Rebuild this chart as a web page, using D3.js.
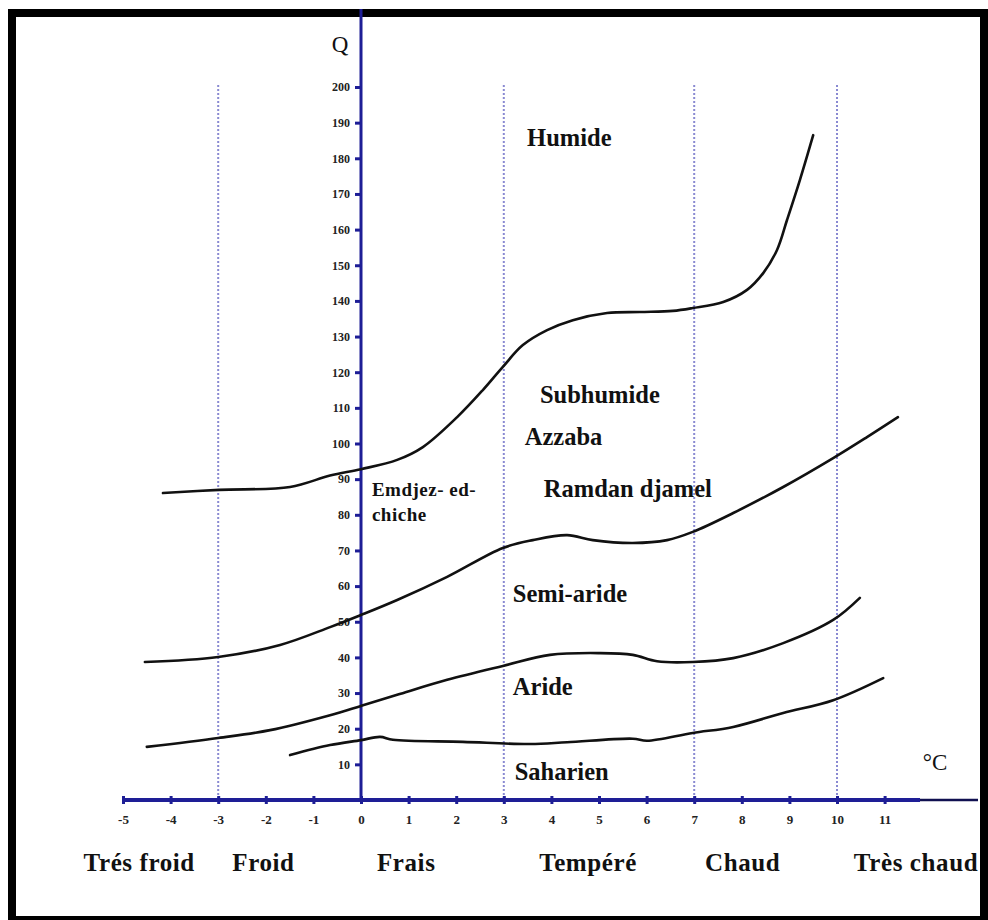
<!DOCTYPE html>
<html>
<head>
<meta charset="utf-8">
<script src="https://cdn.jsdelivr.net/npm/d3@7"></script>
<style>
  html, body { margin: 0; padding: 0; background: #fff; }
  svg { display: block; }
</style>
</head>
<body>
<svg id="chart" width="988" height="920"></svg>
<script>
// ---- Data ----
const xTicks = [-5,-4,-3,-2,-1,0,1,2,3,4,5,6,7,8,9,10,11];
const yTicks = [10,20,30,40,50,60,70,80,90,100,110,120,130,140,150,160,170,180,190,200];
const dividers = [-3, 3, 7, 10];

// Humide / Subhumide boundary
const curveHumide = [
  [-4.16,86.1],[-2.98,87.0],[-1.49,87.8],[-0.65,91.0],[0,92.8],[0.76,95.4],[1.30,99.0],
  [2.02,107.4],[2.56,115.0],[2.98,121.5],[3.40,127.6],[3.91,131.8],[4.45,134.6],[5.17,136.6],
  [5.86,136.9],[6.55,137.2],[6.97,138.0],[7.61,139.7],[8.11,143.1],[8.45,147.8],[8.74,154.3],
  [8.95,162.7],[9.22,173.9],[9.50,186.5]
];
// Subhumide / Semi-aride boundary
const curveSubhumide = [
  [-4.54,38.7],[-3.0,40.1],[-1.70,43.5],[-0.65,48.5],[0,51.9],[0.76,56.1],[1.81,62.6],
  [2.98,70.7],[3.61,72.9],[4.33,74.3],[4.87,72.9],[5.71,72.1],[6.43,72.9],[6.97,75.2],
  [7.82,80.5],[8.87,87.8],[9.92,95.9],[10.63,101.8],[11.28,107.4]
];
// Semi-aride / Aride boundary
const curveSemiAride = [
  [-4.50,14.9],[-3.0,17.4],[-1.91,19.6],[-0.65,23.8],[0,26.4],[0.76,29.5],[1.81,33.7],
  [2.98,37.6],[3.97,40.7],[5.02,41.2],[5.71,40.7],[6.22,38.9],[6.97,38.7],[7.82,39.8],
  [8.87,44.0],[9.92,50.5],[10.48,56.7]
];
// Aride / Saharien boundary
const curveAride = [
  [-1.49,12.6],[-0.65,15.4],[0,16.8],[0.40,17.7],[0.67,16.9],[2.14,16.3],[3.55,15.7],
  [4.33,16.2],[5.71,17.2],[6.01,16.6],[6.97,18.8],[7.82,20.5],[8.87,24.4],[9.92,28.0],[10.97,34.2]
];
const curves = [curveHumide, curveSubhumide, curveSemiAride, curveAride];

// Zone labels: [text, x, Q]
const zoneLabels = [
  ["Humide", 3.49, 183.5],
  ["Subhumide", 3.76, 111.3],
  ["Azzaba", 3.44, 99.6],
  ["Ramdan djamel", 3.84, 85.0],
  ["Semi-aride", 3.19, 55.5],
  ["Aride", 3.19, 29.5],
  ["Saharien", 3.23, 5.6]
];
const siteLabel = ["Emdjez- ed-", "chiche"];
const bottomLabels = [
  ["Trés froid", -4.66],
  ["Froid", -2.05],
  ["Frais", 0.95],
  ["Tempéré", 4.77],
  ["Chaud", 8.02],
  ["Très chaud", 11.66]
];

// ---- Drawing ----
const svg = d3.select("#chart");
const x = d3.scaleLinear().domain([-5, 11]).range([123, 884.6]);
const y = d3.scaleLinear().domain([0, 200]).range([800, 87]);
const serif = "'Liberation Serif', 'DejaVu Serif', serif";
const axisColor = "#1e1e96";

// frame
svg.append("rect").attr("x", 12).attr("y", 13).attr("width", 972).attr("height", 907)
  .attr("fill", "none").attr("stroke", "#000").attr("stroke-width", 8);

// dotted divider lines
svg.append("g").selectAll("line").data(dividers).join("line")
  .attr("x1", d => x(d)).attr("x2", d => x(d))
  .attr("y1", 85).attr("y2", y(0))
  .attr("stroke", "#8a8ad2").attr("stroke-width", 2)
  .attr("stroke-dasharray", "2,2");

// x axis
const gx = svg.append("g").attr("transform", `translate(0,${y(0)})`)
  .call(d3.axisBottom(x).tickValues(xTicks).tickSize(0).tickPadding(15).tickFormat(d => String(d)));
gx.select(".domain").remove();
gx.append("line").attr("x1", 920).attr("x2", 978).attr("y1", 0).attr("y2", 0)
  .attr("stroke", "#101050").attr("stroke-width", 2.5);
gx.append("line").attr("x1", x(-5)).attr("x2", 920).attr("y1", 0).attr("y2", 0)
  .attr("stroke", axisColor).attr("stroke-width", 4);
gx.selectAll(".tick").append("line").attr("y1", -4).attr("y2", 4)
  .attr("stroke", axisColor).attr("stroke-width", 3);
gx.selectAll(".tick text").attr("font-family", serif).attr("font-weight", "bold")
  .attr("font-size", 13).attr("fill", "#222");

// y axis
const gy = svg.append("g").attr("transform", `translate(${x(0)},0)`)
  .call(d3.axisLeft(y).tickValues(yTicks).tickSize(6).tickPadding(5).tickFormat(d => String(d)));
gy.select(".domain").remove();
gy.append("line").attr("x1", 0).attr("x2", 0).attr("y1", 9).attr("y2", y(0))
  .attr("stroke", axisColor).attr("stroke-width", 3);
gy.selectAll(".tick line").attr("stroke", axisColor).attr("stroke-width", 3);
gy.selectAll(".tick text").attr("font-family", serif).attr("font-weight", "bold")
  .attr("font-size", 12).attr("fill", "#222");

// curves
const line = d3.line().x(d => x(d[0])).y(d => y(d[1])).curve(d3.curveCatmullRom.alpha(0.5));
svg.append("g").selectAll("path").data(curves).join("path")
  .attr("d", line).attr("fill", "none").attr("stroke", "#111")
  .attr("stroke-width", 2.6).attr("stroke-linecap", "round");

// axis titles
svg.append("text").attr("x", x(0) - 21).attr("y", 52).attr("text-anchor", "middle")
  .attr("font-family", serif).attr("font-size", 23).attr("fill", "#111").text("Q");
svg.append("text").attr("x", 935).attr("y", 770).attr("text-anchor", "middle")
  .attr("font-family", serif).attr("font-size", 23).attr("fill", "#111").text("°C");

// zone labels
svg.append("g").selectAll("text").data(zoneLabels).join("text")
  .attr("x", d => x(d[1])).attr("y", d => y(d[2]))
  .attr("font-family", serif).attr("font-weight", "bold").attr("font-size", 24.5)
  .attr("fill", "#111").text(d => d[0]);

// site label
svg.append("g").selectAll("text").data(siteLabel).join("text")
  .attr("x", x(0.23)).attr("y", (d, i) => y(85.4) + i * 25)
  .attr("font-family", serif).attr("font-weight", "bold").attr("font-size", 19)
  .attr("letter-spacing", 0.5).attr("fill", "#111").text(d => d);

// bottom class labels
svg.append("g").selectAll("text").data(bottomLabels).join("text")
  .attr("x", d => x(d[1])).attr("y", 871).attr("text-anchor", "middle")
  .attr("font-family", serif).attr("font-weight", "bold").attr("font-size", 25)
  .attr("letter-spacing", 0.6).attr("fill", "#111").text(d => d[0]);
</script>
</body>
</html>
